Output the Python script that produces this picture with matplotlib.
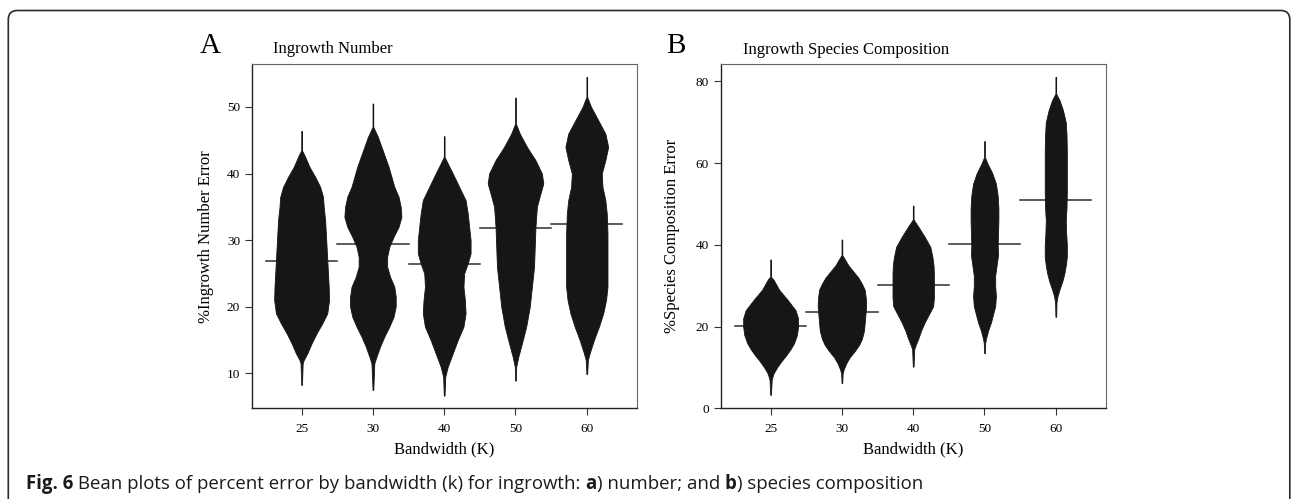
import numpy as np
import matplotlib.pyplot as plt
from matplotlib.patches import FancyBboxPatch
from matplotlib.transforms import IdentityTransform

bandwidth = ['25', '30', '40', '50', '60']

# bean outlines: y values and half widths (x units) per bandwidth
num_y = [
    [46.4, 43.5, 42.5, 41.0, 39.5, 38.0, 36.5, 35.0, 33.0, 31.0, 29.0, 27.0, 25.0, 23.0, 21.0, 19.0, 17.5, 16.0, 14.5, 13.0, 12.0, 11.5, 8.25],
    [50.5, 47.0, 45.5, 44.0, 42.5, 41.0, 39.5, 38.0, 36.5, 35.0, 33.5, 32.0, 30.5, 29.0, 27.5, 26.0, 24.5, 23.0, 21.5, 20.0, 18.5, 17.0, 15.5, 14.0, 12.5, 11.5, 7.5],
    [45.6, 42.5, 41.5, 40.0, 38.0, 36.0, 34.0, 32.0, 30.0, 28.0, 26.5, 25.0, 23.0, 21.0, 19.0, 17.0, 15.0, 13.0, 11.0, 9.5, 6.65],
    [51.4, 47.5, 46.0, 44.0, 42.0, 40.0, 38.5, 37.0, 35.0, 32.0, 29.0, 26.0, 23.0, 20.0, 17.0, 14.5, 12.5, 11.0, 8.9],
    [54.5, 51.5, 50.0, 48.0, 46.0, 44.0, 42.0, 40.0, 38.0, 36.0, 34.0, 31.0, 27.0, 23.0, 21.0, 19.0, 17.0, 15.0, 13.0, 12.0, 9.9],
]
num_w = [
    [0.005, 0.005, 0.05, 0.11, 0.19, 0.26, 0.30, 0.31, 0.33, 0.34, 0.35, 0.36, 0.37, 0.38, 0.385, 0.36, 0.29, 0.21, 0.14, 0.08, 0.03, 0.015, 0.005],
    [0.005, 0.005, 0.07, 0.12, 0.17, 0.22, 0.26, 0.30, 0.36, 0.39, 0.40, 0.36, 0.29, 0.23, 0.20, 0.20, 0.24, 0.30, 0.32, 0.32, 0.29, 0.23, 0.16, 0.10, 0.05, 0.02, 0.005],
    [0.005, 0.005, 0.05, 0.12, 0.21, 0.30, 0.33, 0.35, 0.37, 0.37, 0.33, 0.28, 0.27, 0.29, 0.30, 0.27, 0.19, 0.12, 0.05, 0.015, 0.005],
    [0.005, 0.005, 0.06, 0.16, 0.28, 0.37, 0.39, 0.35, 0.30, 0.28, 0.27, 0.26, 0.23, 0.20, 0.15, 0.09, 0.04, 0.01, 0.005],
    [0.005, 0.005, 0.06, 0.16, 0.26, 0.30, 0.26, 0.21, 0.22, 0.26, 0.28, 0.29, 0.29, 0.29, 0.27, 0.23, 0.17, 0.10, 0.04, 0.015, 0.005],
]
num_mean = [26.9, 29.35, 26.45, 31.85, 32.45]

comp_y = [
    [36.4, 32.2, 31.5, 29.0, 26.5, 24.0, 22.0, 20.0, 18.0, 16.0, 14.5, 13.0, 11.5, 10.0, 8.5, 7.0, 3.3],
    [41.3, 37.5, 36.5, 35.0, 33.5, 32.0, 30.5, 29.0, 27.0, 25.0, 23.0, 21.0, 19.0, 17.0, 15.5, 14.0, 12.5, 11.0, 9.5, 8.5, 6.2],
    [49.6, 46.2, 44.5, 42.0, 39.5, 37.0, 35.0, 33.0, 31.0, 29.0, 27.0, 25.0, 23.0, 21.0, 19.0, 17.0, 15.5, 14.5, 10.2],
    [65.4, 61.5, 60.0, 57.5, 55.0, 52.0, 49.0, 46.0, 43.0, 40.0, 37.5, 35.0, 32.5, 30.0, 27.5, 25.0, 23.0, 21.0, 19.0, 17.0, 16.0, 13.5],
    [81.1, 77.0, 75.5, 73.0, 70.0, 67.0, 63.0, 58.0, 53.0, 49.0, 46.0, 43.0, 40.0, 37.0, 35.0, 33.0, 31.0, 29.0, 27.5, 26.0, 22.4],
]
comp_w = [
    [0.005, 0.005, 0.04, 0.12, 0.24, 0.35, 0.385, 0.385, 0.37, 0.33, 0.28, 0.22, 0.15, 0.09, 0.04, 0.015, 0.005],
    [0.005, 0.005, 0.04, 0.09, 0.16, 0.23, 0.28, 0.32, 0.335, 0.34, 0.33, 0.32, 0.31, 0.28, 0.24, 0.18, 0.11, 0.06, 0.025, 0.01, 0.005],
    [0.005, 0.005, 0.07, 0.16, 0.24, 0.27, 0.285, 0.29, 0.29, 0.29, 0.29, 0.28, 0.22, 0.16, 0.11, 0.07, 0.035, 0.015, 0.005],
    [0.005, 0.005, 0.04, 0.11, 0.16, 0.185, 0.195, 0.195, 0.19, 0.185, 0.19, 0.17, 0.15, 0.15, 0.16, 0.15, 0.12, 0.09, 0.05, 0.02, 0.01, 0.005],
    [0.005, 0.005, 0.05, 0.10, 0.14, 0.15, 0.155, 0.155, 0.155, 0.15, 0.14, 0.145, 0.155, 0.155, 0.14, 0.12, 0.09, 0.05, 0.025, 0.01, 0.005],
]
comp_mean = [20.1, 23.5, 30.1, 40.2, 51.1]

plt.rcParams['font.family'] = 'Liberation Serif'

W, H = 1292, 499
fig = plt.figure(figsize=(W / 100, H / 100), dpi=100)


def bean_panel(left, ys, ws, means, ylim, yticks):
    ax = fig.add_axes([left / W, 1 - 408.3 / H, 385 / W, 344 / H])
    for i in range(len(ys)):
        pos = i + 1
        y = np.array(ys[i])
        w = np.array(ws[i])
        ax.plot([pos - 0.5, pos + 0.5], [means[i], means[i]], color='#2e2e2e', lw=1.1, zorder=1)
        ax.fill_betweenx(y, pos - w, pos + w, facecolor='#161616', edgecolor='#161616', lw=0.6, zorder=2)
    ax.set_xlim(0.3, 5.7)
    ax.set_ylim(*ylim)
    ax.set_xticks(range(1, 6))
    ax.set_xticklabels(bandwidth)
    ax.set_yticks(yticks)
    ax.tick_params(axis='both', direction='out', length=4.8, width=0.8, color='#333333', labelsize=9.5)
    ax.tick_params(axis='x', pad=6.0)
    ax.tick_params(axis='y', pad=3.6)
    for s in ['left', 'bottom']:
        ax.spines[s].set_color('#222222')
        ax.spines[s].set_linewidth(1.0)
    for s in ['top', 'right']:
        ax.spines[s].set_color('#666666')
        ax.spines[s].set_linewidth(0.8)
    fig.text((left + 192.5) / W, 1 - 453.5 / H, 'Bandwidth (K)', ha='center', va='baseline', size=12)
    return ax


bean_panel(251.7, num_y, num_w, num_mean, (4.74, 56.4), [10, 20, 30, 40, 50])
bean_panel(720.7, comp_y, comp_w, comp_mean, (0.1, 84.2), [0, 20, 40, 60, 80])

fig.text(205.5 / W, 1 - 236.3 / H, '%Ingrowth Number Error', rotation=90, ha='center', va='center', size=12)
fig.text(672 / W, 1 - 236.3 / H, '%Species Composition Error', rotation=90, ha='center', va='center', size=12)

fig.text(199.3 / W, 1 - 53.3 / H, 'A', ha='left', va='baseline', size=21)
fig.text(273.3 / W, 1 - 53.3 / H, 'Ingrowth Number', ha='left', va='baseline', size=12)
fig.text(666 / W, 1 - 53.3 / H, 'B', ha='left', va='baseline', size=21)
fig.text(742.7 / W, 1 - 54 / H, 'Ingrowth Species Composition', ha='left', va='baseline', size=12)

# rounded frame around the figure, bottom edge runs off the image
frame = FancyBboxPatch((8.3, -30), 1281.5, H - 10.5 + 30, boxstyle='round,pad=0,rounding_size=9',
                       transform=IdentityTransform(), facecolor='none', edgecolor='#2a2a2a', lw=1.2)
fig.patches.append(frame)

# caption with bold pieces
parts = [('Fig. 6', 'bold'), (' Bean plots of percent error by bandwidth (k) for ingrowth: ', 'normal'),
         ('a', 'bold'), (') number; and ', 'normal'), ('b', 'bold'), (') species composition', 'normal')]
renderer = fig.canvas.get_renderer()
x = 26.0
for txt, wt in parts:
    t = fig.text(x / W, 1 - 488.7 / H, txt, ha='left', va='baseline', size=13.4,
                 family='Open Sans', weight=wt, color='#1a1a1a')
    bb = t.get_window_extent(renderer)
    x += bb.width

fig.savefig('out.png', dpi=100)
